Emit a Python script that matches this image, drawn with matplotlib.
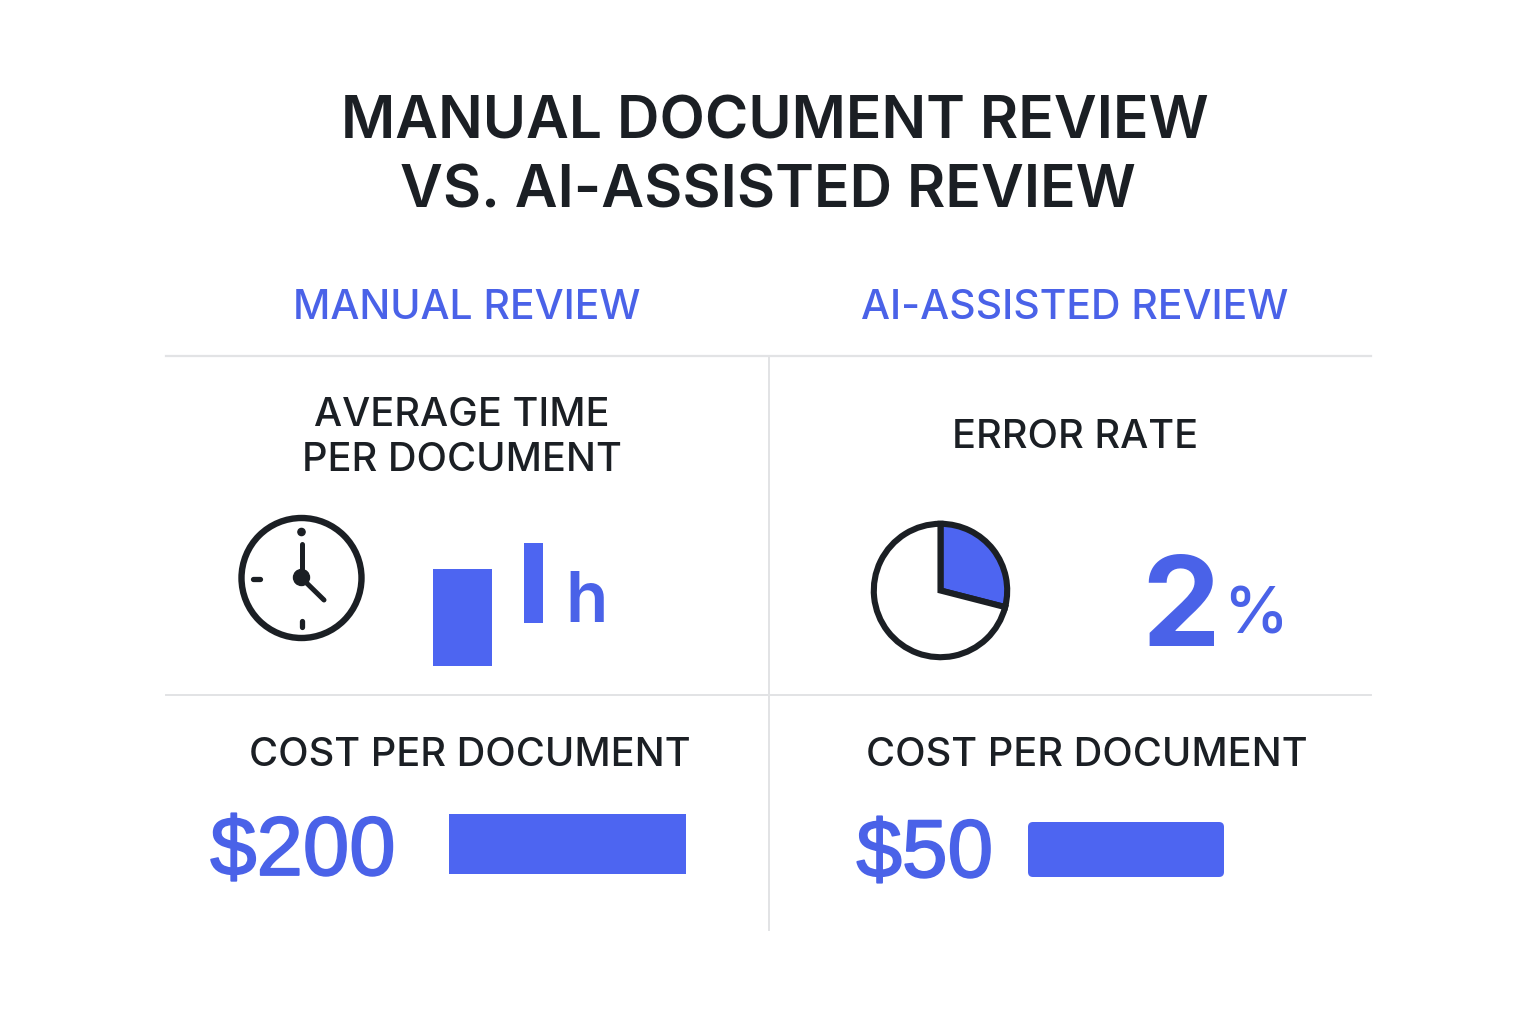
#!/usr/bin/env python3
# -*- coding: utf-8 -*-
"""
Manual document review vs. AI-assisted review infographic
Drawn on one full-figure axes in pixel coordinates (y pointing down)
"""

import matplotlib
matplotlib.use('Agg')
import matplotlib.pyplot as plt
import matplotlib.patheffects as pe
from matplotlib.patches import Circle, FancyBboxPatch, Rectangle

plt.rcParams['font.family'] = ['Inter', 'DejaVu Sans']

# Data
title_lines = ['MANUAL DOCUMENT REVIEW', 'VS. AI-ASSISTED REVIEW']
columns = ['MANUAL REVIEW', 'AI-ASSISTED REVIEW']
time_label = 'AVERAGE TIME\nPER DOCUMENT'
error_label = 'ERROR RATE'
cost_label = 'COST PER DOCUMENT'
time_bars = [97, 80]
error_slice = [29, 71]
error_value = '2'
cost_values = ['$200', '$50']
cost_bars = [237, 196]

BLUE = '#4d65f1'
TEXT_BLUE = '#4a62e8'
DARK = '#1b1f24'
RULE = '#e2e3e5'

fig = plt.figure(figsize=(15.36, 10.24), dpi=100, facecolor='white')
ax = fig.add_axes([0, 0, 1, 1])
ax.set_xlim(0, 1536)
ax.set_ylim(1024, 0)
ax.axis('off')

# Title and column headings
ax.text(775, 123, title_lines[0], fontsize=42.4, fontweight='semibold', color=DARK, ha='center', va='center')
ax.text(768, 192, title_lines[1], fontsize=42.4, fontweight='semibold', color=DARK, ha='center', va='center')
ax.text(467, 308, columns[0], fontsize=29.5, fontweight='medium', color=TEXT_BLUE, ha='center', va='center')
ax.text(1075, 308, columns[1], fontsize=29.5, fontweight='medium', color=TEXT_BLUE, ha='center', va='center')

# Grid rules
ax.plot([166, 1371], [356, 356], color=RULE, lw=1.6)
ax.plot([166, 1371], [695, 695], color=RULE, lw=1.4)
ax.plot([768.5, 768.5], [356, 930], color=RULE, lw=1.4)

# Cell labels
ax.text(462, 438, time_label, fontsize=28.6, fontweight='medium', color=DARK, ha='center', va='center', linespacing=1.25)
ax.text(1075, 438, error_label, fontsize=28.6, fontweight='medium', color=DARK, ha='center', va='center')
ax.text(470, 755, cost_label, fontsize=28.6, fontweight='medium', color=DARK, ha='center', va='center')
ax.text(1087, 755, cost_label, fontsize=28.6, fontweight='medium', color=DARK, ha='center', va='center')

# Clock icon
ax.add_patch(Circle((301.5, 578), 60, facecolor='white', edgecolor=DARK, lw=4.6))
ax.plot([301.5, 301.5], [544, 578], color=DARK, lw=3.6, solid_capstyle='round')
ax.plot([301.5, 324], [578, 600], color=DARK, lw=3.6, solid_capstyle='round')
ax.plot([253, 260], [578.5, 578.5], color=DARK, lw=3.8, solid_capstyle='round')
ax.plot([302, 302], [621, 627], color=DARK, lw=3.8, solid_capstyle='round')
ax.add_patch(Circle((301.5, 532), 3.6, color=DARK))
ax.add_patch(Circle((301.5, 577.5), 8, color=DARK))

# Average time: the two bars stand in for a number, followed by the unit
ax.add_patch(Rectangle((433, 666 - time_bars[0]), 59, time_bars[0], color=BLUE, lw=0))
ax.add_patch(Rectangle((524, 623 - time_bars[1]), 19, time_bars[1], color=BLUE, lw=0))
ax.text(587, 622, 'h', fontsize=50, fontweight='semibold', color=TEXT_BLUE, ha='center', va='baseline')

# Error rate
ax_pie = fig.add_axes([868 / 1536, 1 - 663 / 1024, 145 / 1536, 145 / 1024])
ax_pie.pie(error_slice, colors=[BLUE, 'white'], startangle=90, counterclock=False, radius=0.92,
           wedgeprops={'edgecolor': DARK, 'linewidth': 4.4})
ax_pie.set_xlim(-1, 1)
ax_pie.set_ylim(-1, 1)
ax.text(1181, 646, error_value, fontsize=90, fontweight='bold', color=TEXT_BLUE, ha='center', va='baseline')
ax.text(1256, 633, '%', fontsize=47, fontweight='medium', color=TEXT_BLUE, ha='center', va='baseline')

# Cost per document, a thin outline makes the numbers as heavy as in the picture
heavier = [pe.withStroke(linewidth=1.3, foreground=TEXT_BLUE)]
ax.text(303, 875, cost_values[0], fontsize=60, family='Liberation Sans', color=TEXT_BLUE, ha='center', va='baseline', path_effects=heavier)
ax.text(925, 877, cost_values[1], fontsize=59, family='Liberation Sans', color=TEXT_BLUE, ha='center', va='baseline', path_effects=heavier)
ax.add_patch(Rectangle((449, 814), cost_bars[0], 60, color=BLUE, lw=0))
ax.add_patch(FancyBboxPatch((1028, 822), cost_bars[1], 55, boxstyle='round,pad=0,rounding_size=5', facecolor=BLUE, edgecolor='none'))

fig.savefig('out.png', dpi=100, facecolor='white')
